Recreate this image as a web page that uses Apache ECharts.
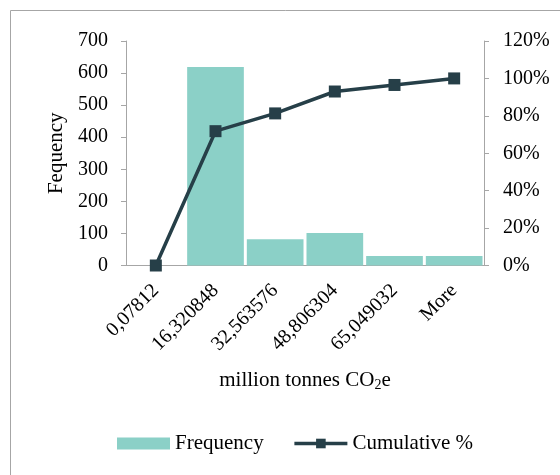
<!DOCTYPE html>
<html>
<head>
<meta charset="utf-8">
<script src="https://cdn.jsdelivr.net/npm/echarts@6/dist/echarts.min.js"></script>
<style>html,body{margin:0;padding:0;background:#fff}#c{width:560px;height:475px}</style>
</head>
<body>
<div id="c"></div>
<script>
const categories = ['0,07812', '16,320848', '32,563576', '48,806304', '65,049032', 'More'];
const frequency = [0, 619, 82, 101, 30, 30];
const cumulative = [0, 0.718, 0.813, 0.930, 0.965, 1.0];
const leftTicks = {min: 0, max: 700, interval: 100};
const rightTicks = {min: 0, max: 1.2, interval: 0.2};

const FONT = 'Liberation Serif';
const AXIS = '#a6a6a6';
const LINE = '#263f48';
const chart = echarts.init(document.getElementById('c'), null, {renderer: 'canvas'});
chart.setOption({
  animation: false,
  textStyle: {fontFamily: FONT, color: '#000'},
  graphic: [{
    type: 'rect', silent: true,
    shape: {x: 10.5, y: 10.5, width: 700, height: 700},
    style: {fill: 'none', stroke: AXIS, lineWidth: 1}
  }],
  grid: {left: 126, right: 76, top: 41, bottom: 209.5},
  legend: {
    left: 117, top: 433, padding: 0,
    itemWidth: 53, itemHeight: 12, itemGap: 29,
    textStyle: {fontFamily: FONT, fontSize: 21, color: '#000'},
    data: [
      {name: 'Frequency', icon: 'rect', itemStyle: {color: '#8bd0c7'}},
      {name: 'Cumulative %', lineStyle: {width: 3.5, color: LINE}}
    ]
  },
  xAxis: {
    type: 'category', data: categories, boundaryGap: true,
    axisLine: {show: true, lineStyle: {color: AXIS, width: 1}},
    axisTick: {show: false},
    axisLabel: {rotate: 45, margin: 22, fontFamily: FONT, fontSize: 20, color: '#000', interval: 0},
    name: '{a|million tonnes CO}{s|2}{a|e}',
    nameLocation: 'middle', nameGap: 102,
    nameTextStyle: {
      rich: {
        a: {fontFamily: FONT, fontSize: 21, color: '#000', lineHeight: 25},
        s: {fontFamily: FONT, fontSize: 14, color: '#000', verticalAlign: 'bottom', lineHeight: 25}
      }
    }
  },
  yAxis: [{
    type: 'value', min: leftTicks.min, max: leftTicks.max, interval: leftTicks.interval,
    axisLine: {show: true, lineStyle: {color: AXIS, width: 1}},
    axisTick: {show: true, length: 5, lineStyle: {color: AXIS}},
    splitLine: {show: false},
    axisLabel: {margin: 18, fontFamily: FONT, fontSize: 20, color: '#000'},
    name: 'Fequency', nameLocation: 'middle', nameGap: 57,
    nameTextStyle: {fontFamily: FONT, fontSize: 21, color: '#000'}
  }, {
    type: 'value', min: rightTicks.min, max: rightTicks.max, interval: rightTicks.interval,
    position: 'right',
    axisLine: {show: true, lineStyle: {color: AXIS, width: 1}},
    axisTick: {show: true, length: 5, lineStyle: {color: AXIS}},
    splitLine: {show: false},
    axisLabel: {margin: 19, fontFamily: FONT, fontSize: 20, color: '#000',
      formatter: v => Math.round(v * 100) + '%'}
  }],
  series: [{
    name: 'Frequency', type: 'bar', data: frequency,
    barCategoryGap: '5%',
    itemStyle: {color: '#8bd0c7'}
  }, {
    name: 'Cumulative %', type: 'line', yAxisIndex: 1, data: cumulative,
    symbol: 'rect', symbolSize: 12,
    lineStyle: {color: LINE, width: 3.5},
    itemStyle: {color: LINE}
  }]
});
</script>
</body>
</html>
